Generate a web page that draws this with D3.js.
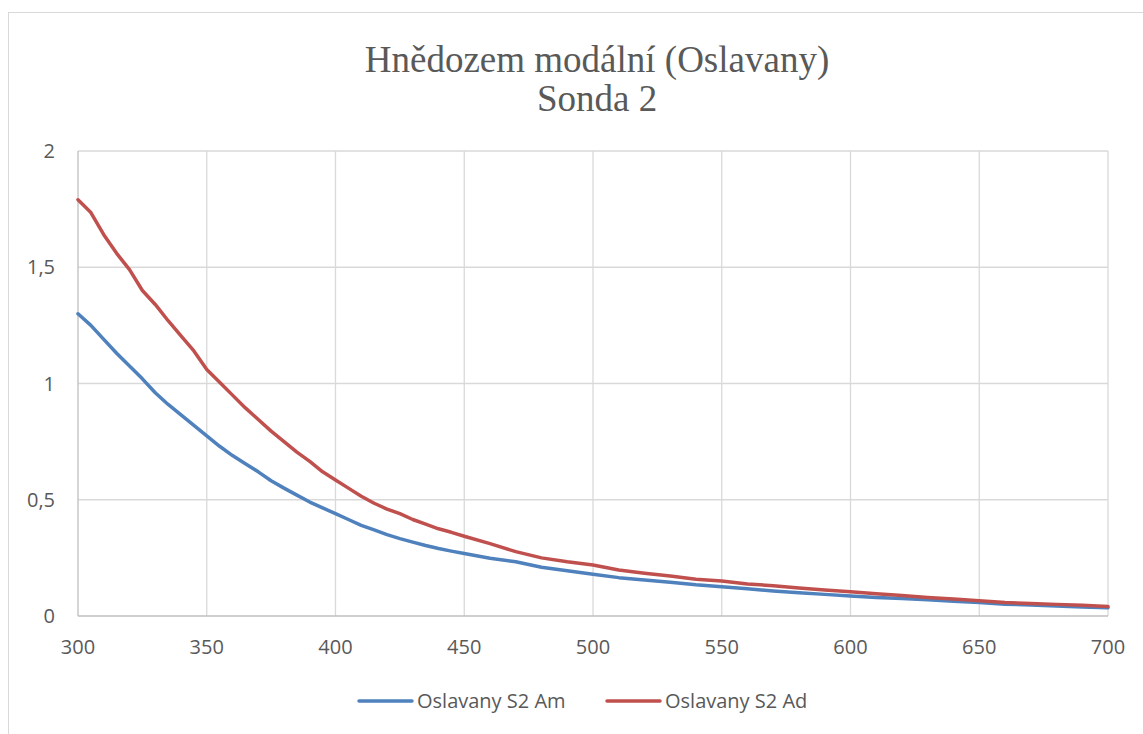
<!DOCTYPE html>
<html>
<head>
<meta charset="utf-8">
<script src="https://cdn.jsdelivr.net/npm/d3@7"></script>
<style>
  body { margin: 0; background: #fff; }
  svg text { fill: #595959; }
</style>
</head>
<body>
<svg id="chart" width="1143" height="734"></svg>
<script>
// wavelengths (nm) and the two absorbance series
const wavelengths = [300,305,310,315,320,325,330,335,340,345,350,355,360,365,370,375,380,385,390,395,
  400,405,410,415,420,425,430,435,440,445,450,460,470,480,490,500,510,520,530,540,
  550,560,570,580,590,600,610,620,630,640,650,660,670,680,690,700];
const seriesAm = [1.30,1.25,1.19,1.13,1.075,1.02,0.96,0.91,0.865,0.82,0.775,0.73,0.69,0.655,0.62,0.582,0.55,0.52,0.49,0.465,
  0.44,0.415,0.39,0.37,0.35,0.333,0.318,0.303,0.29,0.279,0.269,0.248,0.233,0.21,0.195,0.18,0.165,0.155,0.145,0.134,
  0.126,0.117,0.108,0.10,0.093,0.086,0.08,0.075,0.07,0.063,0.058,0.051,0.047,0.043,0.039,0.036];
const seriesAd = [1.79,1.735,1.64,1.56,1.49,1.40,1.34,1.27,1.205,1.14,1.06,1.005,0.95,0.895,0.845,0.795,0.75,0.705,0.665,0.62,
  0.585,0.55,0.515,0.485,0.46,0.44,0.415,0.395,0.375,0.36,0.343,0.311,0.277,0.25,0.233,0.219,0.198,0.184,0.172,0.158,
  0.151,0.138,0.13,0.12,0.112,0.104,0.096,0.088,0.08,0.073,0.066,0.058,0.054,0.05,0.046,0.041];
const seriesNames = ['Oslavany S2 Am', 'Oslavany S2 Ad'];
const seriesColors = ['#4F81BD', '#C0504D'];
const xTicks = [300,350,400,450,500,550,600,650,700];
const yTicks = [0,0.5,1,1.5,2];
const titleLines = ['Hnědozem modální (Oslavany)', 'Sonda 2'];

const svg = d3.select('#chart');
const margin = { left: 78, right: 1108, top: 151, bottom: 616 };
const labelFont = '20px "Open Sans", sans-serif';

// chart frame
svg.append('rect')
  .attr('x', 8.5).attr('y', 12.5)
  .attr('width', 1150).attr('height', 740)
  .attr('fill', 'none').attr('stroke', '#d9d9d9');

const x = d3.scaleLinear().domain([300, 700]).range([margin.left, margin.right]);
const y = d3.scaleLinear().domain([0, 2]).range([margin.bottom, margin.top]);

// gridlines
svg.append('g').selectAll('line.h')
  .data(yTicks.filter(d => d > 0))
  .enter().append('line')
  .attr('x1', margin.left).attr('x2', margin.right)
  .attr('y1', d => y(d)).attr('y2', d => y(d))
  .attr('stroke', '#d9d9d9').attr('stroke-width', 1.3);
svg.append('g').selectAll('line.v')
  .data(xTicks.filter(d => d > 300))
  .enter().append('line')
  .attr('x1', d => x(d)).attr('x2', d => x(d))
  .attr('y1', margin.top).attr('y2', margin.bottom)
  .attr('stroke', '#d9d9d9').attr('stroke-width', 1.3);

// axis lines
svg.append('line')
  .attr('x1', margin.left).attr('x2', margin.left)
  .attr('y1', margin.top).attr('y2', margin.bottom)
  .attr('stroke', '#bfbfbf').attr('stroke-width', 1.3);
svg.append('line')
  .attr('x1', margin.left).attr('x2', margin.right)
  .attr('y1', margin.bottom).attr('y2', margin.bottom)
  .attr('stroke', '#bfbfbf').attr('stroke-width', 1.3);

// tick labels
const fmt = d => String(d).replace('.', ',');
svg.append('g').selectAll('text')
  .data(yTicks).enter().append('text')
  .attr('x', 55).attr('y', d => y(d) + 7)
  .attr('text-anchor', 'end')
  .style('font', labelFont)
  .text(fmt);
svg.append('g').selectAll('text')
  .data(xTicks).enter().append('text')
  .attr('x', d => x(d)).attr('y', 654)
  .attr('text-anchor', 'middle')
  .style('font', labelFont)
  .text(d => d);

// lines
const line = d3.line().x(d => x(d[0])).y(d => y(d[1]));
[seriesAm, seriesAd].forEach((s, i) => {
  svg.append('path')
    .datum(wavelengths.map((w, j) => [w, s[j]]))
    .attr('d', line)
    .attr('fill', 'none')
    .attr('stroke', seriesColors[i])
    .attr('stroke-width', 3.5)
    .attr('stroke-linejoin', 'round')
    .attr('stroke-linecap', 'round');
});

// title
svg.append('text')
  .attr('y', 72)
  .attr('text-anchor', 'middle')
  .style('font', '37px "Liberation Serif", serif')
  .selectAll('tspan')
  .data(titleLines).enter().append('tspan')
  .attr('x', 597).attr('dy', (d, i) => i === 0 ? 0 : 39)
  .text(d => d);

// legend
const legendX = [359, 607];
seriesNames.forEach((n, i) => {
  svg.append('line')
    .attr('x1', legendX[i]).attr('x2', legendX[i] + 53)
    .attr('y1', 701).attr('y2', 701)
    .attr('stroke', seriesColors[i]).attr('stroke-width', 3.5)
    .attr('stroke-linecap', 'round');
  svg.append('text')
    .attr('x', legendX[i] + 58).attr('y', 708)
    .style('font', labelFont)
    .text(n);
});
</script>
</body>
</html>
